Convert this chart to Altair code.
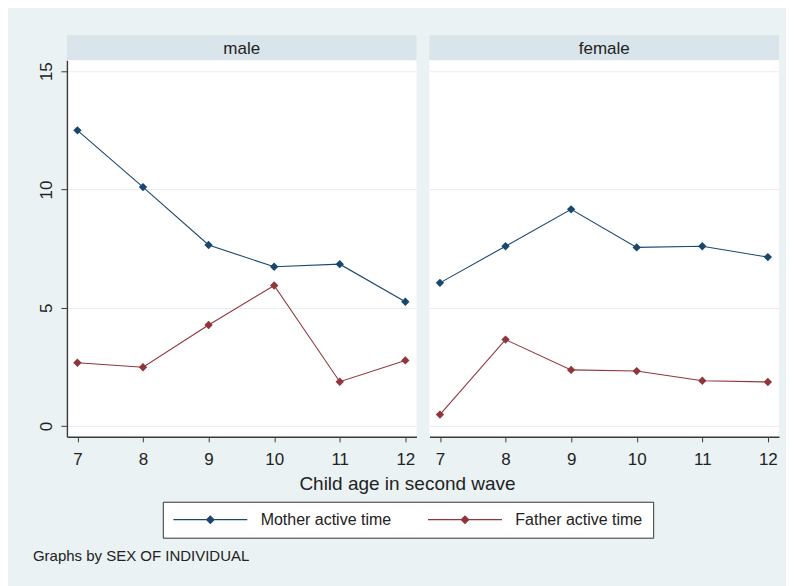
import altair as alt
import pandas as pd

ages = [7, 8, 9, 10, 11, 12]
sexes = ["male", "female"]
series_names = ["Mother active time", "Father active time"]
mother_male = [12.5, 10.1, 7.65, 6.73, 6.84, 5.25]
father_male = [2.67, 2.48, 4.27, 5.94, 1.87, 2.77]
mother_female = [6.05, 7.6, 9.16, 7.55, 7.6, 7.14]
father_female = [0.48, 3.65, 2.37, 2.32, 1.91, 1.86]
y_ticks = [0, 5, 10, 15]
x_title = "Child age in second wave"
note = "Graphs by SEX OF INDIVIDUAL"

colors = ["#1a476f", "#90353b"]
FONT = "Liberation Sans"
TXT = "#222222"
AX = "#3a3a3a"
GRID = "#e6eef0"

values = {
    ("male", series_names[0]): mother_male,
    ("male", series_names[1]): father_male,
    ("female", series_names[0]): mother_female,
    ("female", series_names[1]): father_female,
}
rows = []
for (sex, ser), vals in values.items():
    for a, v in zip(ages, vals):
        rows.append({"sex": sex, "series": ser, "age": a, "value": v})
df = pd.DataFrame(rows)

W, H, HH = 350, 377, 25

# legend symbol: a 74px line with a small diamond in its middle (unit = 7.4px)
legend_path = "M-1,0L9,0M3.5,0L4,-0.5L4.5,0L4,0.5Z"


def header(sex):
    hd = pd.DataFrame({"label": [sex]})
    band = alt.Chart(hd).mark_rect(color="#d9e5ea").encode(
        x=alt.value(0), x2=alt.value(W), y=alt.value(0), y2=alt.value(HH)
    )
    txt = alt.Chart(hd).mark_text(
        font=FONT, fontSize=17, color=TXT, baseline="alphabetic", align="center"
    ).encode(x=alt.value(W / 2), y=alt.value(18.5), text="label:N")
    return alt.layer(band, txt).properties(width=W, height=HH)


def xaxis(first):
    kw = dict(
        values=ages, format="d", grid=False, domain=True, domainColor=AX, domainWidth=1.4,
        tickColor=AX, tickSize=5, tickWidth=1, labelFont=FONT, labelFontSize=17,
        labelColor=TXT, labelPadding=10, labelFlush=False,
    )
    if first:
        kw.update(
            title=x_title, titleFont=FONT, titleFontSize=19, titleFontWeight="normal",
            titleColor=TXT, titleX=340.5, titleY=53, titleBaseline="alphabetic",
        )
    else:
        kw.update(title=None)
    return alt.Axis(**kw)


def plot(sex, first):
    d = df[df.sex == sex]
    x = alt.X("age:Q", scale=alt.Scale(domain=[6.84, 12.17], nice=False, zero=False), axis=xaxis(first))
    if first:
        yaxis = alt.Axis(
            values=y_ticks, grid=True, gridColor=GRID, gridWidth=1, domain=True, domainColor=AX,
            domainWidth=1.4, tickColor=AX, tickSize=6, tickWidth=1, labelAngle=-90,
            labelFont=FONT, labelFontSize=17, labelColor=TXT, labelPadding=5, title=None,
        )
    else:
        yaxis = alt.Axis(
            values=y_ticks, grid=True, gridColor=GRID, gridWidth=1, domain=False, ticks=False,
            labels=False, title=None,
        )
    y = alt.Y("value:Q", scale=alt.Scale(domain=[-0.46, 15.46], nice=False, zero=False), axis=yaxis)
    legend = alt.Legend(
        orient="none", legendX=96, legendY=467, direction="horizontal", columns=2,
        title=None, symbolType=legend_path, symbolSize=219, symbolStrokeWidth=1.2,
        labelFont=FONT, labelFontSize=16, labelColor=TXT, labelOffset=72,
        columnPadding=34, padding=10, strokeColor="#333333", fillColor="white",
        symbolLimit=0,
    ) if first else None
    color = alt.Color(
        "series:N", scale=alt.Scale(domain=series_names, range=colors), legend=legend,
        sort=series_names,
    )
    base = alt.Chart(d).encode(x=x, y=y, color=color, order="age:Q")
    lines = base.mark_line(strokeWidth=1.1)
    pts = base.mark_point(shape="diamond", filled=True, size=70, opacity=1)
    return alt.layer(lines, pts).properties(
        width=W, height=H, view=alt.ViewBackground(fill="white", stroke=None)
    )


top = alt.hconcat(header("male"), header("female"), spacing=13, bounds="flush")
bottom = alt.hconcat(plot("male", True), plot("female", False), spacing=13, bounds="flush")
chart = alt.vconcat(top, bottom, spacing=0).properties(
    background="#eaf2f3",
    padding={"left": 25, "top": 27, "right": 7, "bottom": 25},
    title=alt.TitleParams(
        text=note, orient="bottom", anchor="start", frame="bounds", font=FONT, fontSize=15,
        fontWeight="normal", color=TXT, dx=-5, offset=11,
    ),
).configure_view(stroke=None)

chart.save("out.html", embed_options={"renderer": "svg", "actions": False})
